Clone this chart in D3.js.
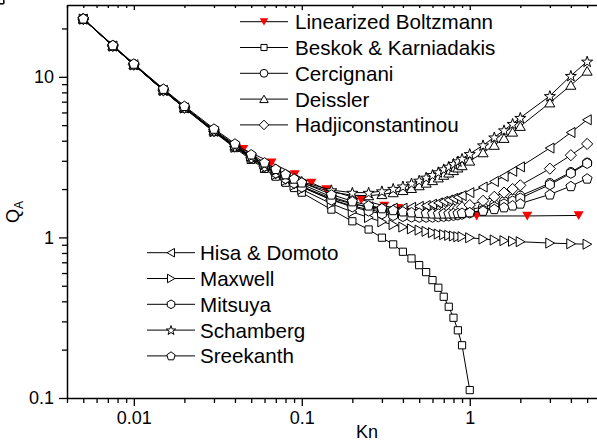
<!DOCTYPE html>
<html>
<head>
<meta charset="utf-8">
<script src="https://cdn.jsdelivr.net/npm/d3@7"></script>
<style>
  body { margin: 0; background: #fff; }
  svg { display: block; font-family: 'Liberation Sans', Arial, sans-serif; }
</style>
</head>
<body>
<svg id="chart"></svg>
<script>
const WIDTH = 597;
const HEIGHT = 445;

// Plot frame (the right edge runs past the picture).
const LEFT = 67;
const TOP = 5;
const BOTTOM = 398;
const RIGHT = 604;

// Kn values shared by the slip models.
const knGrid = [0.005, 0.0075, 0.01, 0.015, 0.02, 0.03, 0.04, 0.05, 0.06, 0.07, 0.08, 0.09, 0.1,
  0.15, 0.2, 0.25, 0.3, 0.35, 0.4, 0.45, 0.5, 0.55, 0.6, 0.65, 0.7, 0.75, 0.8, 0.85, 0.9, 1,
  1.2, 1.4, 1.6, 1.8, 2, 3, 4, 5];

// Linearized Boltzmann solution has its own Kn points.
const knBoltzmann = [0.0448, 0.066, 0.0908, 0.114, 0.14, 0.226, 0.31, 0.374, 0.443, 0.59, 0.886, 1.1, 2.2, 4.45];
const qBoltzmann = [3.55, 2.92, 2.47, 2.19, 1.99, 1.72, 1.57, 1.52, 1.48, 1.42, 1.38, 1.36, 1.36, 1.37];

// Beskok & Karniadakis stops at Kn = 1.
const qBeskok = [22.9, 15.54, 11.88, 8.2, 6.37, 4.53, 3.6, 3.04, 2.67, 2.39, 2.19, 2.03, 1.9,
  1.49, 1.26, 1.12, 0.996, 0.905, 0.814, 0.74, 0.672, 0.608, 0.542, 0.486, 0.427, 0.37, 0.316, 0.264, 0.213, 0.112];

const qCercignani = [23.0, 15.67, 12.0, 8.34, 6.51, 4.68, 3.77, 3.22, 2.86, 2.6, 2.41, 2.26, 2.14,
  1.79, 1.63, 1.535, 1.48, 1.447, 1.427, 1.415, 1.41, 1.409, 1.411, 1.416, 1.423, 1.432, 1.44, 1.452, 1.464, 1.49,
  1.548, 1.611, 1.677, 1.745, 1.815, 2.177, 2.55, 2.92];

const qDeissler = [22.9, 15.57, 11.9, 8.25, 6.42, 4.61, 3.71, 3.18, 2.84, 2.6, 2.42, 2.29, 2.18,
  1.92, 1.83, 1.82, 1.85, 1.9, 1.96, 2.02, 2.1, 2.18, 2.26, 2.35, 2.44, 2.52, 2.61, 2.71, 2.8, 2.99,
  3.37, 3.75, 4.14, 4.53, 4.92, 6.89, 8.87, 10.86];

const qHadjiconstantinou = [22.9, 15.57, 11.9, 8.24, 6.41, 4.59, 3.68, 3.13, 2.77, 2.51, 2.32, 2.17, 2.06,
  1.72, 1.57, 1.49, 1.44, 1.42, 1.41, 1.41, 1.41, 1.42, 1.43, 1.45, 1.46, 1.48, 1.5, 1.52, 1.54, 1.59,
  1.69, 1.79, 1.9, 2.0, 2.11, 2.68, 3.25, 3.82];

const qHisaDomoto = [22.9, 15.56, 11.89, 8.23, 6.4, 4.58, 3.67, 3.13, 2.77, 2.52, 2.33, 2.19, 2.08,
  1.75, 1.62, 1.55, 1.52, 1.52, 1.52, 1.54, 1.56, 1.58, 1.61, 1.64, 1.68, 1.71, 1.75, 1.78, 1.82, 1.9,
  2.06, 2.23, 2.4, 2.58, 2.75, 3.6, 4.5, 5.4];

const qMaxwell = [22.9, 15.55, 11.89, 8.22, 6.39, 4.55, 3.64, 3.09, 2.72, 2.46, 2.26, 2.11, 1.99,
  1.62, 1.44, 1.33, 1.25, 1.2, 1.16, 1.13, 1.11, 1.09, 1.07, 1.05, 1.04, 1.03, 1.02, 1.01, 1.01, 0.995,
  0.977, 0.964, 0.954, 0.946, 0.94, 0.922, 0.913, 0.907];

const qMitsuya = [22.92, 15.59, 11.92, 8.26, 6.43, 4.6, 3.69, 3.14, 2.78, 2.52, 2.33, 2.18, 2.06,
  1.71, 1.55, 1.46, 1.4, 1.37, 1.35, 1.34, 1.335, 1.335, 1.337, 1.343, 1.35, 1.36, 1.37, 1.38, 1.393, 1.42,
  1.48, 1.545, 1.613, 1.683, 1.755, 2.13, 2.51, 2.89];

const qSchamberg = [22.91, 15.57, 11.91, 8.25, 6.43, 4.62, 3.73, 3.2, 2.86, 2.62, 2.45, 2.32, 2.22,
  1.97, 1.9, 1.9, 1.94, 2.01, 2.08, 2.17, 2.26, 2.36, 2.45, 2.55, 2.66, 2.76, 2.87, 2.98, 3.09, 3.31,
  3.75, 4.2, 4.65, 5.1, 5.56, 7.6, 10.15, 12.46];

const qSreekanth = [23.08, 15.75, 12.08, 8.42, 6.585, 4.754, 3.84, 3.29, 2.93, 2.668, 2.475, 2.324, 2.2,
  1.85, 1.679, 1.581, 1.52, 1.48, 1.453, 1.434, 1.4225, 1.415, 1.41, 1.408, 1.409, 1.411, 1.4135, 1.417, 1.4225, 1.435,
  1.466, 1.502, 1.541, 1.582, 1.625, 1.852, 2.0875, 2.327];

// Axis ticks.
const xMajorTicks = [0.01, 0.1, 1];
const xTickLabels = ['0.01', '0.1', '1'];
const yMajorTicks = [0.1, 1, 10];
const yTickLabels = ['0.1', '1', '10'];

// Series in legend order; shape names are drawn by markerPath below.
const series = [
  {name: 'Linearized Boltzmann', kn: knBoltzmann, q: qBoltzmann, shape: 'down', fill: '#ff0000'},
  {name: 'Beskok & Karniadakis', kn: knGrid, q: qBeskok, shape: 'square'},
  {name: 'Cercignani', kn: knGrid, q: qCercignani, shape: 'circle'},
  {name: 'Deissler', kn: knGrid, q: qDeissler, shape: 'up'},
  {name: 'Hadjiconstantinou', kn: knGrid, q: qHadjiconstantinou, shape: 'diamond'},
  {name: 'Hisa & Domoto', kn: knGrid, q: qHisaDomoto, shape: 'left'},
  {name: 'Maxwell', kn: knGrid, q: qMaxwell, shape: 'right'},
  {name: 'Mitsuya', kn: knGrid, q: qMitsuya, shape: 'hexagon'},
  {name: 'Schamberg', kn: knGrid, q: qSchamberg, shape: 'star'},
  {name: 'Sreekanth', kn: knGrid, q: qSreekanth, shape: 'pentagon'}
];

// This returns a closed polygon path through the given points.
const polygon = pts => 'M' + pts.map(p => p[0].toFixed(2) + ',' + p[1].toFixed(2)).join('L') + 'Z';

// Regular polygon with a vertex pointing up.
function regular(n, r) {
  return d3.range(n).map(i => {
    const a = -Math.PI / 2 + (i * 2 * Math.PI) / n;
    return [r * Math.cos(a), r * Math.sin(a)];
  });
}

// This returns the SVG path of a marker centred on 0,0.
function markerPath(shape, k = 1) {
  const tri = regular(3, 5.8 * k); // apex up
  const c = 1.2 * k; // recentre the triangle on its box
  switch (shape) {
    case 'circle': {
      const r = 4.6 * k;
      return `M${-r},0A${r},${r} 0 1,0 ${r},0A${r},${r} 0 1,0 ${-r},0Z`;
    }
    case 'square': {
      const h = 3.6 * k;
      return polygon([[-h, -h], [h, -h], [h, h], [-h, h]]);
    }
    case 'up':
      return polygon(tri.map(p => [p[0], p[1] + c]));
    case 'down':
      return polygon(tri.map(p => [p[0], -p[1] - c]));
    case 'left':
      return polygon(tri.map(p => [p[1] + c, p[0]]));
    case 'right':
      return polygon(tri.map(p => [-p[1] - c, p[0]]));
    case 'diamond': {
      const r = 5.6 * k;
      return polygon([[0, -r], [r, 0], [0, r], [-r, 0]]);
    }
    case 'hexagon':
      return polygon(regular(6, 5.1 * k));
    case 'pentagon':
      return polygon(regular(5, 5.2 * k).map(p => [p[0], p[1] + 0.4 * k]));
    case 'star': {
      const pts = [];
      for (let i = 0; i < 10; i++) {
        const r = (i % 2 ? 2.3 : 5.8) * k;
        const a = -Math.PI / 2 + (i * Math.PI) / 5;
        pts.push([r * Math.cos(a), r * Math.sin(a) + 0.5 * k]);
      }
      return polygon(pts);
    }
  }
  return '';
}

const svg = d3.select('#chart').attr('width', WIDTH).attr('height', HEIGHT);

const xScale = d3.scaleLog().domain([0.004, 6.3]).range([LEFT, RIGHT]);
const yScale = d3.scaleLog().domain([0.1, 28]).range([BOTTOM, TOP]);

// Tick values 1..9 x 10^n inside the domain.
function logTicks(lo, hi) {
  const out = [];
  for (let e = Math.floor(Math.log10(lo)); e <= Math.ceil(Math.log10(hi)); e++) {
    for (let m = 1; m < 10; m++) {
      const v = m * Math.pow(10, e);
      if (v >= lo * 0.999 && v <= hi * 1.001) out.push(+v.toPrecision(3));
    }
  }
  return out;
}
const xTicks = logTicks(0.004, 6.3);
const yTicks = logTicks(0.1, 28);
const isMajor = v => Math.abs(Math.log10(v) - Math.round(Math.log10(v))) < 1e-6;
const labelFor = (majors, labels) => v => {
  const i = majors.findIndex(m => Math.abs(m - v) < v * 1e-6);
  return i < 0 ? '' : labels[i];
};

// Bottom axis.
const xAxisGroup = svg.append('g').attr('transform', `translate(0,${BOTTOM})`);
d3.axisBottom(xScale).tickValues(xTicks).tickFormat(labelFor(xMajorTicks, xTickLabels)).tickSizeOuter(0)(xAxisGroup);

// Top axis, small inward ticks, no labels.
const topGroup = svg.append('g').attr('transform', `translate(0,${TOP})`);
d3.axisBottom(xScale).tickValues(xTicks).tickFormat('').tickSizeOuter(0)(topGroup);

// Left axis.
const yAxisGroup = svg.append('g').attr('transform', `translate(${LEFT},0)`);
d3.axisLeft(yScale).tickValues(yTicks).tickFormat(labelFor(yMajorTicks, yTickLabels)).tickSizeOuter(0)(yAxisGroup);

// Origin-style tick lengths and fonts.
xAxisGroup.selectAll('.tick line').attr('y2', d => (isMajor(d) ? 8 : 5));
xAxisGroup.selectAll('.tick text').attr('y', 13).attr('dy', '0.71em');
topGroup.selectAll('.tick line').attr('y2', d => (isMajor(d) ? 5 : 3));
yAxisGroup.selectAll('.tick line').attr('x2', d => (isMajor(d) ? -8 : -5));
yAxisGroup.selectAll('.tick text').attr('x', -13);

for (const g of [xAxisGroup, topGroup, yAxisGroup]) {
  g.selectAll('.domain').attr('stroke', '#000').attr('stroke-width', 1.5);
  g.selectAll('.tick line').attr('stroke', '#000').attr('stroke-width', 1.3);
  g.selectAll('.tick text')
    .attr('fill', '#000')
    .attr('font-size', 18)
    .attr('font-family', "'Liberation Sans', Arial, sans-serif");
}

// Axis titles.
svg.append('text')
  .attr('x', 367)
  .attr('y', 438)
  .attr('text-anchor', 'middle')
  .attr('font-size', 18)
  .text('Kn');

const yTitle = svg.append('text')
  .attr('transform', 'translate(19,223) rotate(-90)')
  .attr('font-size', 18);
yTitle.append('tspan').text('Q');
yTitle.append('tspan').attr('font-size', 12).attr('dy', 4).text('A');

// Data lines and markers, in legend order.
const plot = svg.append('g');
for (const s of series) {
  const points = s.kn.map((k, i) => [k, s.q[i]]);
  const line = d3.line().x(d => xScale(d[0])).y(d => yScale(d[1]));
  const g = plot.append('g');
  g.append('path')
    .attr('d', line(points))
    .attr('fill', 'none')
    .attr('stroke', '#000')
    .attr('stroke-width', 1);
  g.selectAll('path.marker')
    .data(points)
    .join('path')
    .attr('class', 'marker')
    .attr('transform', d => `translate(${xScale(d[0])},${yScale(d[1])})`)
    .attr('d', markerPath(s.shape))
    .attr('fill', s.fill || '#fff')
    .attr('stroke', s.fill ? 'none' : '#000')
    .attr('stroke-width', 1);
}

// Two legend blocks, as in the original.
function drawLegend(items, x0, y0, textX) {
  const rowHeight = 25.8;
  const g = svg.append('g');
  items.forEach((s, i) => {
    const y = y0 + i * rowHeight;
    g.append('line')
      .attr('x1', x0).attr('x2', x0 + 48)
      .attr('y1', y).attr('y2', y)
      .attr('stroke', '#000').attr('stroke-width', 1);
    g.append('path')
      .attr('transform', `translate(${x0 + 24},${y})`)
      .attr('d', markerPath(s.shape, 0.85))
      .attr('fill', s.fill || '#fff')
      .attr('stroke', s.fill ? 'none' : '#000')
      .attr('stroke-width', 1);
    g.append('text')
      .attr('x', textX)
      .attr('y', y)
      .attr('dy', '0.36em')
      .attr('font-size', 20.6)
      .text(s.name);
  });
}
drawLegend(series.slice(0, 5), 240, 21.7, 295);
drawLegend(series.slice(5), 147, 252.7, 200);
</script>
</body>
</html>
